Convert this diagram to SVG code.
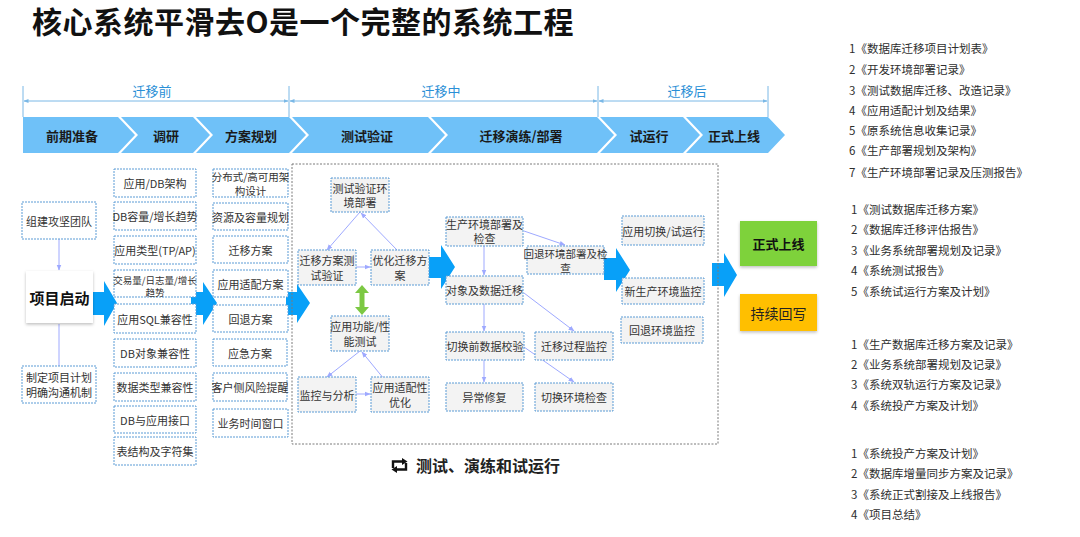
<svg xmlns="http://www.w3.org/2000/svg" width="1080" height="537" viewBox="0 0 1080 537">
<style>
text{font-family:"Noto Sans CJK SC","Liberation Sans",sans-serif;}
.title{font-size:30px;font-weight:bold;fill:#111;letter-spacing:0.5px;}
.phase{font-size:13px;fill:#2a8fd6;text-anchor:middle;dominant-baseline:central;}
.chev{fill:#6fc1f8;}
.chevt{font-size:13px;font-weight:bold;fill:#1a1a1a;text-anchor:middle;dominant-baseline:central;}
.box{fill:#fff;stroke:#5b9bd5;stroke-width:1;stroke-dasharray:2 1;}
.gbox{fill:#f3f3f3;stroke:#5b9bd5;stroke-width:1;stroke-dasharray:2 1;}
.t{font-size:11px;fill:#333;text-anchor:middle;dominant-baseline:central;}
.big{fill:#08a0f8;}
.ln{stroke:#9ea9ff;stroke-width:1;fill:none;}
.doc{font-size:11.5px;fill:#2e2e2e;dominant-baseline:central;}
.brk{stroke:#7ab8e6;stroke-width:1;fill:none;}
</style>
<defs>
<marker id="ah" viewBox="0 0 10 10" refX="9" refY="5" markerWidth="6" markerHeight="6" orient="auto-start-reverse">
<path d="M0,1 L10,5 L0,9 z" fill="#9ea9ff"/>
</marker>
<marker id="bh" viewBox="0 0 10 10" refX="9" refY="5" markerWidth="5" markerHeight="5" orient="auto-start-reverse">
<path d="M0,1 L10,5 L0,9 z" fill="#7ab8e6"/>
</marker>
<filter id="sh" x="-20%" y="-20%" width="140%" height="150%">
<feDropShadow dx="0" dy="1.5" stdDeviation="1.5" flood-color="#000" flood-opacity="0.25"/>
</filter>
</defs>

<text class="title" x="32" y="33">核心系统平滑去O是一个完整的系统工程</text>

<g id="phases">
<line class="brk" x1="23" y1="86" x2="23" y2="117"/>
<line class="brk" x1="289" y1="86" x2="289" y2="117"/>
<line class="brk" x1="598" y1="86" x2="598" y2="117"/>
<line class="brk" x1="768" y1="86" x2="768" y2="117"/>
<line class="brk" x1="24" y1="101" x2="288" y2="101" marker-start="url(#bh)" marker-end="url(#bh)"/>
<line class="brk" x1="290" y1="101" x2="597" y2="101" marker-start="url(#bh)" marker-end="url(#bh)"/>
<line class="brk" x1="599" y1="101" x2="767" y2="101" marker-start="url(#bh)" marker-end="url(#bh)"/>
<text class="phase" x="152" y="90">迁移前</text>
<text class="phase" x="441" y="90">迁移中</text>
<text class="phase" x="687" y="90">迁移后</text>
</g>

<g id="chevrons">
<path class="chev" d="M23,117 L118,117 L135,135 L118,153 L23,153 Z"/>
<path class="chev" d="M121,117 L193,117 L210,135 L193,153 L121,153 L138,135 Z"/>
<path class="chev" d="M196,117 L289,117 L306,135 L289,153 L196,153 L213,135 Z"/>
<path class="chev" d="M292,117 L428,117 L445,135 L428,153 L292,153 L309,135 Z"/>
<path class="chev" d="M431,117 L597,117 L614,135 L597,153 L431,153 L448,135 Z"/>
<path class="chev" d="M600,117 L683,117 L700,135 L683,153 L600,153 L617,135 Z"/>
<path class="chev" d="M686,117 L768,117 L785,135 L768,153 L686,153 L703,135 Z"/>
<text class="chevt" x="72" y="135">前期准备</text>
<text class="chevt" x="166" y="135">调研</text>
<text class="chevt" x="251" y="135">方案规划</text>
<text class="chevt" x="367" y="135">测试验证</text>
<text class="chevt" x="521" y="135">迁移演练/部署</text>
<text class="chevt" x="649" y="135">试运行</text>
<text class="chevt" x="734" y="135">正式上线</text>
</g>

<g id="connectors">
<line class="ln" x1="59" y1="239" x2="59" y2="270" marker-end="url(#ah)"/>
<line class="ln" x1="59" y1="324" x2="59" y2="366"/>
<line class="ln" x1="360" y1="212" x2="327" y2="250" marker-end="url(#ah)"/>
<line class="ln" x1="397" y1="250" x2="361" y2="213" marker-end="url(#ah)"/>
<line class="ln" x1="356" y1="267" x2="370" y2="267" marker-end="url(#ah)"/>
<line class="ln" x1="360" y1="351" x2="327" y2="377" marker-end="url(#ah)"/>
<line class="ln" x1="393" y1="390" x2="362" y2="352" marker-end="url(#ah)"/>
<line class="ln" x1="356" y1="394" x2="370" y2="394" marker-end="url(#ah)"/>
<line class="ln" x1="524" y1="231" x2="565" y2="245" marker-end="url(#ah)"/>
<line class="ln" x1="484" y1="246" x2="484" y2="275" marker-end="url(#ah)"/>
<line class="ln" x1="524" y1="293" x2="574" y2="331" marker-end="url(#ah)"/>
<line class="ln" x1="484" y1="304" x2="484" y2="331" marker-end="url(#ah)"/>
<line class="ln" x1="524" y1="347" x2="574" y2="382" marker-end="url(#ah)"/>
<line class="ln" x1="484" y1="360" x2="484" y2="382" marker-end="url(#ah)"/>
<path d="M362,285 L369,293 L364.5,293 L364.5,307 L369,307 L362,315 L355,307 L359.5,307 L359.5,293 L355,293 Z" fill="#7cc843"/>
</g>

<g id="big-arrows">
<polygon class="big" points="93,292 104,292 104,281 117,303 104,326 104,315 93,315"/>
<polygon class="big" points="191,292 203,292 203,282 217,303 203,325 203,315 191,315"/>
<polygon class="big" points="286,292 297,292 297,284 310,303 297,323 297,315 286,315"/>
<polygon class="big" points="429,257 441,257 441,245 455,267 441,289 441,278 429,278"/>
<polygon class="big" points="604,258 616,258 616,248 630,270 616,292 616,280 604,280"/>
<polygon class="big" points="712,263 724,263 724,253 737,275 724,297 724,286 712,286"/>
</g>

<g id="kickoff">
<g id="n-team"><rect class="box" x="22" y="202" width="74" height="37"/><text class="t" x="59" y="220.5">组建攻坚团队</text></g>
<g id="n-start"><rect x="26" y="271" width="67" height="52" fill="#fff" filter="url(#sh)"/><text x="59.5" y="297" style="font-size:15px;font-weight:bold;fill:#111;text-anchor:middle;dominant-baseline:central">项目启动</text></g>
<g id="n-plan"><rect class="box" x="22" y="366" width="74" height="37"/><text class="t" x="59" y="377">制定项目计划</text><text class="t" x="59" y="392">明确沟通机制</text></g>
</g>

<g id="research">
<g id="r1"><rect class="box" x="114" y="169" width="82" height="28"/><text class="t" x="155" y="183">应用/DB架构</text></g>
<g id="r2"><rect class="box" x="114" y="202" width="82" height="28"/><text class="t" x="155" y="216">DB容量/增长趋势</text></g>
<g id="r3"><rect class="box" x="114" y="236" width="82" height="28"/><text class="t" x="155" y="250">应用类型(TP/AP)</text></g>
<g id="r4"><rect class="box" x="114" y="270" width="82" height="27"/><text class="t" x="155" y="280" style="font-size:9.5px">交易量/日志量/增长</text><text class="t" x="155" y="292" style="font-size:9.5px">趋势</text></g>
<g id="r5"><rect class="box" x="114" y="304" width="82" height="29"/><text class="t" x="155" y="318.5">应用SQL兼容性</text></g>
<g id="r6"><rect class="box" x="114" y="339" width="82" height="28"/><text class="t" x="155" y="353">DB对象兼容性</text></g>
<g id="r7"><rect class="box" x="114" y="373" width="82" height="28"/><text class="t" x="155" y="387">数据类型兼容性</text></g>
<g id="r8"><rect class="box" x="114" y="406" width="82" height="27"/><text class="t" x="155" y="419.5">DB与应用接口</text></g>
<g id="r9"><rect class="box" x="114" y="437" width="82" height="28"/><text class="t" x="155" y="451">表结构及字符集</text></g>
</g>

<g id="planning">
<g id="p1"><rect class="box" x="213" y="169" width="75" height="28"/><text class="t" x="250.5" y="176" style="font-size:10.5px">分布式/高可用架</text><text class="t" x="250.5" y="190" style="font-size:10.5px">构设计</text></g>
<g id="p2"><rect class="box" x="213" y="203" width="75" height="27"/><text class="t" x="250.5" y="216.5">资源及容量规划</text></g>
<g id="p3"><rect class="box" x="213" y="236" width="75" height="27"/><text class="t" x="250.5" y="249.5">迁移方案</text></g>
<g id="p4"><rect class="box" x="213" y="270" width="75" height="27"/><text class="t" x="250.5" y="283.5">应用适配方案</text></g>
<g id="p5"><rect class="box" x="213" y="305" width="75" height="27"/><text class="t" x="250.5" y="318.5">回退方案</text></g>
<g id="p6"><rect class="box" x="213" y="339" width="74" height="27"/><text class="t" x="250" y="352.5">应急方案</text></g>
<g id="p7"><rect class="box" x="213" y="373" width="74" height="28"/><text class="t" x="250" y="387">客户侧风险提醒</text></g>
<g id="p8"><rect class="box" x="213" y="409" width="75" height="28"/><text class="t" x="250.5" y="423">业务时间窗口</text></g>
</g>

<g id="test-container">
<rect x="292" y="164" width="426" height="280" fill="none" stroke="#7a7a7a" stroke-width="1" stroke-dasharray="2 1.5"/>
</g>

<g id="testing">
<g id="t1"><rect class="gbox" x="331" y="178" width="58" height="34"/><text class="t" x="360" y="188">测试验证环</text><text class="t" x="360" y="202">境部署</text></g>
<g id="t2"><rect class="gbox" x="298" y="250" width="58" height="35"/><text class="t" x="327" y="260">迁移方案测</text><text class="t" x="327" y="275">试验证</text></g>
<g id="t3"><rect class="gbox" x="371" y="250" width="58" height="35"/><text class="t" x="400" y="260">优化迁移方</text><text class="t" x="400" y="275">案</text></g>
<g id="t4"><rect class="gbox" x="331" y="316" width="58" height="35"/><text class="t" x="360" y="326">应用功能/性</text><text class="t" x="360" y="341">能测试</text></g>
<g id="t5"><rect class="gbox" x="298" y="377" width="58" height="35"/><text class="t" x="327" y="394.5">监控与分析</text></g>
<g id="t6"><rect class="gbox" x="371" y="377" width="58" height="35"/><text class="t" x="400" y="387">应用适配性</text><text class="t" x="400" y="402">优化</text></g>
</g>

<g id="rehearsal">
<g id="m1"><rect class="gbox" x="446" y="217" width="77" height="29"/><text class="t" x="484.5" y="224">生产环境部署及</text><text class="t" x="484.5" y="238">检查</text></g>
<g id="m2"><rect class="gbox" x="527" y="246" width="77" height="28"/><text class="t" x="565.5" y="253" style="font-size:10.5px">回退环境部署及检</text><text class="t" x="565.5" y="267" style="font-size:10.5px">查</text></g>
<g id="m3"><rect class="gbox" x="446" y="276" width="77" height="28"/><text class="t" x="484.5" y="290">对象及数据迁移</text></g>
<g id="m4"><rect class="gbox" x="446" y="332" width="78" height="28"/><text class="t" x="485" y="346">切换前数据校验</text></g>
<g id="m5"><rect class="gbox" x="535" y="332" width="78" height="28"/><text class="t" x="574" y="346">迁移过程监控</text></g>
<g id="m6"><rect class="gbox" x="446" y="383" width="77" height="28"/><text class="t" x="484.5" y="397">异常修复</text></g>
<g id="m7"><rect class="gbox" x="535" y="383" width="78" height="28"/><text class="t" x="574" y="397">切换环境检查</text></g>
</g>

<g id="trial">
<g id="s1"><rect class="gbox" x="622" y="216" width="82" height="29"/><text class="t" x="663" y="230.5">应用切换/试运行</text></g>
<g id="s2"><rect class="gbox" x="622" y="278" width="82" height="26"/><text class="t" x="663" y="291">新生产环境监控</text></g>
<g id="s3"><rect class="gbox" x="621" y="317" width="82" height="26"/><text class="t" x="662" y="330">回退环境监控</text></g>
</g>

<g id="n-live"><rect x="740" y="221" width="77" height="45" fill="#7ed23a" filter="url(#sh)"/><text x="778.5" y="243.5" style="font-size:13px;font-weight:bold;fill:#111;text-anchor:middle;dominant-baseline:central">正式上线</text></g>
<g id="n-writeback"><rect x="740" y="294" width="77" height="37" fill="#ffbf00" filter="url(#sh)"/><text x="778.5" y="312.5" style="font-size:14px;fill:#222;text-anchor:middle;dominant-baseline:central">持续回写</text></g>

<g id="caption">
<path d="M393,468 L393,461.5 L403,461.5" fill="none" stroke="#111" stroke-width="2.4"/>
<path d="M402,458 L407.5,461.5 L402,465 Z" fill="#111"/>
<path d="M406,463 L406,469.5 L396,469.5" fill="none" stroke="#111" stroke-width="2.4"/>
<path d="M397,466 L391.5,469.5 L397,473 Z" fill="#111"/>
<text x="416" y="465" style="font-size:16px;font-weight:bold;fill:#222;dominant-baseline:central">测试、演练和试运行</text>
</g>

<g id="documents">
<text class="doc" x="849" y="48">1《数据库迁移项目计划表》</text>
<text class="doc" x="849" y="69">2《开发环境部署记录》</text>
<text class="doc" x="849" y="90">3《测试数据库迁移、改造记录》</text>
<text class="doc" x="849" y="110">4《应用适配计划及结果》</text>
<text class="doc" x="849" y="130">5《原系统信息收集记录》</text>
<text class="doc" x="849" y="150">6《生产部署规划及架构》</text>
<text class="doc" x="849" y="172">7《生产环境部署记录及压测报告》</text>
<text class="doc" x="851" y="209">1《测试数据库迁移方案》</text>
<text class="doc" x="851" y="229">2《数据库迁移评估报告》</text>
<text class="doc" x="851" y="250">3《业务系统部署规划及记录》</text>
<text class="doc" x="851" y="270">4《系统测试报告》</text>
<text class="doc" x="851" y="291">5《系统试运行方案及计划》</text>
<text class="doc" x="851" y="344">1《生产数据库迁移方案及记录》</text>
<text class="doc" x="851" y="364">2《业务系统部署规划及记录》</text>
<text class="doc" x="851" y="384">3《系统双轨运行方案及记录》</text>
<text class="doc" x="851" y="405">4《系统投产方案及计划》</text>
<text class="doc" x="851" y="453">1《系统投产方案及计划》</text>
<text class="doc" x="851" y="473">2《数据库增量同步方案及记录》</text>
<text class="doc" x="851" y="494">3《系统正式割接及上线报告》</text>
<text class="doc" x="851" y="514">4《项目总结》</text>
</g>
</svg>
